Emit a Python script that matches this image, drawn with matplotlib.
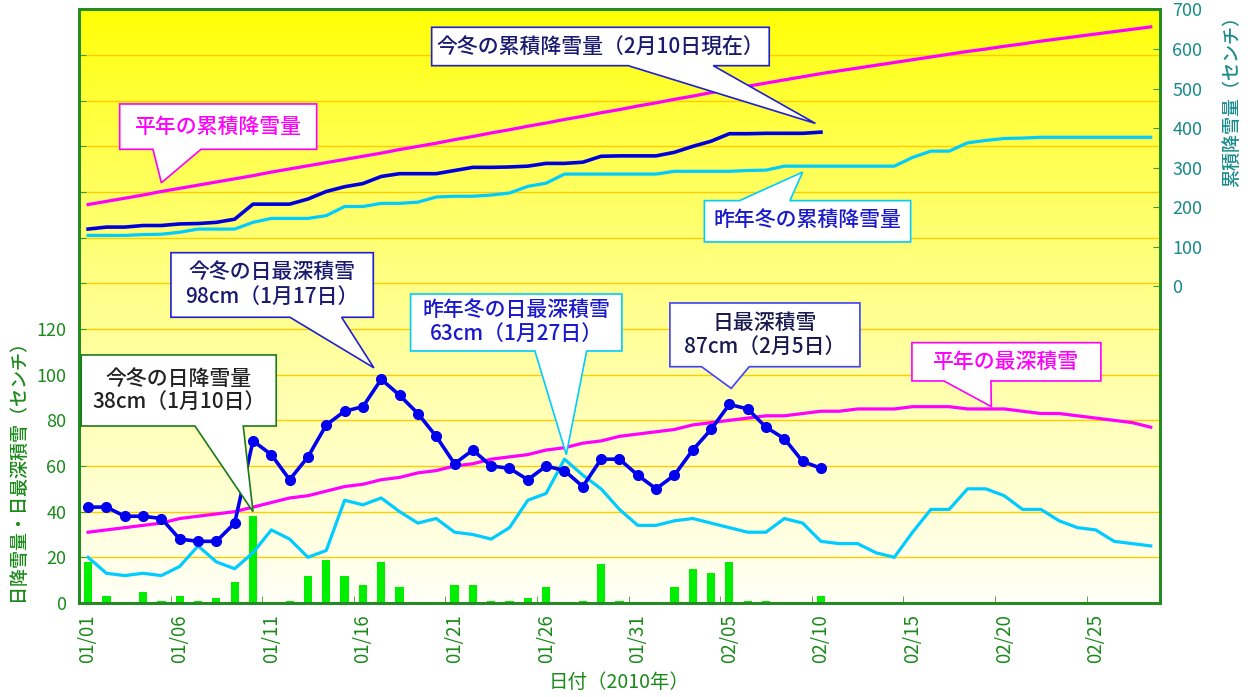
import numpy as np
import matplotlib.pyplot as plt
import matplotlib.transforms as mtransforms
from matplotlib.patches import Polygon
from matplotlib.ticker import FuncFormatter

plt.rcParams['font.family'] = ['Noto Sans CJK JP', 'DejaVu Sans']

# 日付 (2010/01/01 - 02/28)
dates = ['01/%02d' % d for d in range(1, 32)] + ['02/%02d' % d for d in range(1, 29)]

# 今冬の日降雪量 (01/01 - 02/10)
snow_today = [18, 3, 0, 5, 1, 3, 1, 2, 9, 38,
              0, 1, 12, 19, 12, 8, 18, 7, 0, 0,
              8, 8, 1, 1, 2, 7, 0, 1, 17, 1,
              0, 0, 7, 15, 13, 18, 1, 1, 0, 0, 3]

# 今冬の日最深積雪
depth_today = [42, 42, 38, 38, 37, 28, 27, 27, 35, 71,
               65, 54, 64, 78, 84, 86, 98, 91, 83, 73,
               61, 67, 60, 59, 54, 60, 58, 51, 63, 63,
               56, 50, 56, 67, 76, 87, 85, 77, 72, 62, 59]

# 昨年冬の日最深積雪
depth_last = [20, 13, 12, 13, 12, 16, 25, 18, 15, 22,
              32, 28, 20, 23, 45, 43, 46, 40, 35, 37,
              31, 30, 28, 33, 45, 48, 63, 56, 50, 41,
              34, 34, 36, 37, 35, 33, 31, 31, 37, 35,
              27, 26, 26, 22, 20, 31, 41, 41, 50, 50,
              47, 41, 41, 36, 33, 32, 27, 26, 25]

# 平年の最深積雪
depth_normal = [31, 32, 33, 34, 35, 37, 38, 39, 40, 42,
                44, 46, 47, 49, 51, 52, 54, 55, 57, 58,
                60, 61, 63, 64, 65, 67, 68, 70, 71, 73,
                74, 75, 76, 78, 79, 80, 81, 82, 82, 83,
                84, 84, 85, 85, 85, 86, 86, 86, 85, 85,
                85, 84, 83, 83, 82, 81, 80, 79, 77]

# 今冬の累積降雪量
cum_today = [145, 150, 150, 154, 154, 158, 159, 162, 170, 208,
             208, 208, 221, 240, 252, 260, 278, 285, 285, 285,
             293, 301, 301, 302, 304, 311, 311, 314, 329, 330,
             330, 330, 339, 354, 367, 386, 386, 387, 387, 387, 390]

# 昨年冬の累積降雪量
cum_last = [129, 129, 129, 131, 132, 137, 145, 145, 145, 162,
            172, 172, 172, 179, 202, 202, 210, 210, 213, 226,
            228, 228, 231, 236, 253, 261, 284, 284, 284, 284,
            284, 284, 291, 291, 291, 291, 293, 294, 304, 304,
            304, 304, 304, 304, 304, 326, 342, 342, 363, 369,
            374, 375, 377, 377, 377, 377, 377, 377, 377]

# 平年の累積降雪量
cum_normal = [207, 215, 223, 231, 240, 248, 256, 264, 272, 280,
              289, 297, 305, 313, 321, 329, 337, 346, 354, 362,
              371, 379, 388, 396, 405, 413, 422, 430, 439, 447,
              456, 464, 473, 481, 490, 498, 506, 514, 522, 530,
              538, 545, 552, 559, 566, 573, 580, 587, 594, 600,
              607, 613, 620, 626, 632, 638, 644, 650, 656]

x = np.arange(len(dates))
n_now = len(snow_today)

fig = plt.figure(figsize=(12.53, 6.97), dpi=100)
ax = fig.add_axes([0.0630, 0.1349, 0.8627, 0.8515])

# 背景のグラデーション
t = np.linspace(0, 1, 256)[:, None]
grad = np.ones((256, 1, 3))
grad[:, :, 2] = 0.97 * t ** 0.8
ax.imshow(grad, extent=[0, 1, 0, 1], transform=ax.transAxes, aspect='auto',
          origin='upper', zorder=0)

ax.bar(x[:n_now], snow_today, width=0.45, color='#00ee00', zorder=2)
ax.plot(x, depth_normal, color='#ff00ff', lw=2.3, zorder=3)
ax.plot(x, depth_last, color='#00ccff', lw=2.3, zorder=3)
ax.plot(x[:n_now], depth_today, color='#0000ee', lw=2.6, marker='o', ms=7, zorder=4)

ax.set_xlim(-0.5, len(dates) - 0.5)
ax.set_ylim(0, 260)
ax.set_yticks(np.arange(0, 241, 20))
ax.yaxis.set_major_formatter(FuncFormatter(lambda v, p: '%d' % v if v <= 120 else ''))
ax.yaxis.grid(True, color='#ffcc00', lw=1)
ax.set_xticks(x[::5])
ax.set_xticklabels(dates[::5])
ax.set_xticks(np.arange(4.5, len(dates), 5), minor=True)

green = '#1a8a1a'
ax.tick_params(axis='y', direction='in', length=5, color='#3a9a3a',
               labelcolor=green, labelsize=13, pad=9)
ax.tick_params(axis='x', which='major', length=0, labelrotation=90,
               labelsize=13.5, labelcolor=green, pad=8)
ax.tick_params(axis='x', which='minor', direction='in', length=5, color='#3a9a3a')

ax2 = ax.twinx()
ax2.plot(x, cum_normal, color='#ff00ff', lw=2.3)
ax2.plot(x, cum_last, color='#00ccff', lw=2.3)
ax2.plot(x[:n_now], cum_today, color='#0000dd', lw=2.6)
ax2.set_ylim(-800, 700)
ax2.set_yticks(np.arange(0, 701, 100))
ax2.tick_params(axis='y', direction='in', length=5, color='#3a9a3a',
                labelcolor='#1a8a8a', labelsize=13, pad=9)

for a in (ax, ax2):
    for s in a.spines.values():
        s.set_color('#228b22')
        s.set_linewidth(2)

ax.set_xlabel('日付（2010年）', color=green, fontsize=14, labelpad=6)
ax.text(-0.0564, 60, '日降雪量・日最深積雪（センチ）', rotation=90, ha='center', va='center',
        color=green, fontsize=13, fontweight='medium',
        transform=mtransforms.blended_transform_factory(ax.transAxes, ax.transData))
ax2.text(1.0666, 480, '累積降雪量（センチ）', rotation=90, ha='center', va='center',
         color='#1a8a8a', fontsize=13, fontweight='medium',
         transform=mtransforms.blended_transform_factory(ax2.transAxes, ax2.transData))


def callout(text, box, base, tip_axis, tip, edge, tcolor):
    x0, x1, yb, yt = box
    b1, b2 = base
    disp = tip_axis.transData.transform(tip)
    tx, ty = ax2.transAxes.inverted().transform(disp)
    if ty < yb:
        pts = [(x0, yt), (x1, yt), (x1, yb), (b2, yb), (tx, ty), (b1, yb), (x0, yb)]
    else:
        pts = [(x0, yb), (x1, yb), (x1, yt), (b2, yt), (tx, ty), (b1, yt), (x0, yt)]
    ax2.add_patch(Polygon(pts, closed=True, transform=ax2.transAxes, fc='white',
                          ec=edge, lw=1.2, zorder=10, clip_on=False))
    ax2.text((x0 + x1) / 2, (yb + yt) / 2, text, transform=ax2.transAxes,
             ha='center', va='center', color=tcolor, fontsize=15,
             fontweight='medium', linespacing=1.1, zorder=11)


callout('今冬の累積降雪量（2月10日現在）', (0.3263, 0.6386, 0.9053, 0.9700),
        (0.5081, 0.5868), ax2, (39.7, cum_today[-1] + 22), '#2020d0', '#1a1a70')
callout('平年の累積降雪量', (0.0377, 0.2199, 0.7644, 0.8408),
        (0.0685, 0.1129), ax2, (4, cum_normal[4] + 22), '#ff00ff', '#ff00ff')
callout('昨年冬の累積降雪量', (0.5786, 0.7694, 0.6083, 0.6779),
        (0.6111, 0.6577), ax2, (39, cum_last[39] - 15), '#00ccff', '#1a1acc')
callout('今冬の日最深積雪\n98cm（1月17日）', (0.0851, 0.2723, 0.4814, 0.5902),
        (0.1952, 0.2430), ax, (15.6, depth_today[16] + 5), '#2020d0', '#1a1a70')
callout('昨年冬の日最深積雪\n63cm（1月27日）', (0.3068, 0.5023, 0.4246, 0.5206),
        (0.4218, 0.4697), ax, (26.1, depth_last[26] + 2), '#00ccff', '#1a1acc')
callout('日最深積雪\n87cm（2月5日）', (0.5467, 0.7225, 0.3981, 0.5055),
        (0.5760, 0.6201), ax, (35.1, depth_today[35] + 7), '#4040ff', '#1a1a50')
callout('平年の最深積雪', (0.7706, 0.9454, 0.3741, 0.4386),
        (0.8002, 0.8437), ax, (49.3, depth_normal[49] + 1), '#ff00ff', '#ff00ff')
callout('今冬の日降雪量\n38cm（1月10日）', (0.0021, 0.1825, 0.2982, 0.4179),
        (0.1073, 0.1520), ax, (9, snow_today[9] + 2), '#1a7a1a', '#222222')

fig.savefig('out.png', dpi=100)
